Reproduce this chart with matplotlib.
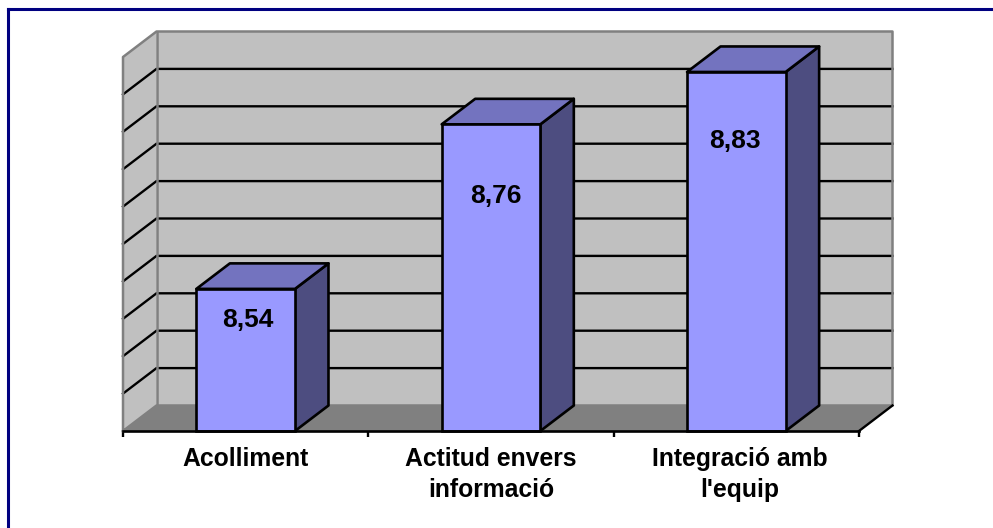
import matplotlib
matplotlib.use('Agg')
import matplotlib.pyplot as plt
from matplotlib.lines import Line2D
from matplotlib.patches import Polygon
from matplotlib.transforms import ScaledTranslation

plt.rcParams['font.family'] = ['Liberation Sans', 'DejaVu Sans']

# data
categories = ['Acolliment', 'Actitud envers\ninformació', 'Integració amb\nl\'equip']
values = [8.54, 8.76, 8.83]
value_labels = ['8,54', '8,76', '8,83']
grid_values = [8.40, 8.45, 8.50, 8.55, 8.60, 8.65, 8.70, 8.75, 8.80]
y_min = 8.35
y_max = 8.85

W, H = 993, 528
fig = plt.figure(figsize=(W / 100, H / 100), dpi=100)
ax = fig.add_axes([123 / W, 1 - 431 / H, 736 / W, 374 / H])
ax.set_xlim(0, len(categories))
ax.set_ylim(y_min, y_max)
ax.patch.set_visible(False)
for side in ['top', 'left', 'right']:
    ax.spines[side].set_visible(False)
ax.spines['bottom'].set_linewidth(1.9)
ax.spines['bottom'].set_zorder(8)

# depth of the fake 3d box, in data units
dx = 33.5 / 736 * len(categories)
dy = 25.5 / 374 * (y_max - y_min)
x_end = len(categories)
gray = '#808080'

# walls and floor
ax.add_patch(Polygon([(dx, y_min + dy), (x_end + dx, y_min + dy), (x_end + dx, y_max + dy), (dx, y_max + dy)],
                     fc='#C0C0C0', ec='none', zorder=1, clip_on=False))
ax.add_patch(Polygon([(0, y_min), (dx, y_min + dy), (dx, y_max + dy), (0, y_max)],
                     fc='#C0C0C0', ec='none', zorder=1, clip_on=False))
ax.add_patch(Polygon([(0, y_min), (x_end, y_min), (x_end + dx, y_min + dy), (dx, y_min + dy)],
                     fc=gray, ec='none', zorder=1, clip_on=False))

# gridlines
for g in grid_values:
    ax.plot([0, dx, x_end + dx], [g, g + dy, g + dy], color='black', lw=1.7, zorder=2,
            clip_on=False, solid_joinstyle='miter')

# gray outline of the walls
ax.plot([0, 0, dx, x_end + dx, x_end + dx, dx, 0],
        [y_min, y_max, y_max + dy, y_max + dy, y_min + dy, y_min + dy, y_min],
        color=gray, lw=1.8, zorder=3, clip_on=False)
ax.plot([dx, dx], [y_min + dy, y_max + dy], color=gray, lw=1.8, zorder=3, clip_on=False)
ax.plot([x_end, x_end + dx], [y_min, y_min + dy], color='black', lw=1.7, zorder=3, clip_on=False)

# bars
bar_w = 0.402
label_offsets = [-31, -72, -69]
label_shift = [2.5, 5, -1]
for i, v in enumerate(values):
    x0 = i + 0.5 - bar_w / 2
    x1 = i + 0.5 + bar_w / 2
    ax.add_patch(Polygon([(x1, y_min), (x1 + dx, y_min + dy), (x1 + dx, v + dy), (x1, v)],
                         fc='#4D4D80', ec='black', lw=1.9, zorder=4, clip_on=False, joinstyle='round'))
    ax.add_patch(Polygon([(x0, v), (x1, v), (x1 + dx, v + dy), (x0 + dx, v + dy)],
                         fc='#7373BF', ec='black', lw=1.9, zorder=4, clip_on=False, joinstyle='round'))
    ax.add_patch(Polygon([(x0, y_min), (x1, y_min), (x1, v), (x0, v)],
                         fc='#9999FF', ec='black', lw=1.9, zorder=5, clip_on=False, joinstyle='miter'))
    ax.annotate(value_labels[i], (i + 0.5, v), xytext=(label_shift[i] * 0.72, label_offsets[i] * 0.72),
                textcoords='offset points', ha='center', va='center',
                fontsize=19, fontweight='bold', color='black', zorder=6)

# x axis, ticks sit between the categories
ax.set_yticks([])
ax.set_xticks([i + 0.5 for i in range(len(categories))])
ax.set_xticklabels(categories, fontsize=17.8, fontweight='bold', linespacing=1.37)
ax.tick_params(axis='x', which='major', length=0, pad=11.5)
ax.set_xticks(range(len(categories) + 1), minor=True)
ax.tick_params(axis='x', which='minor', length=4, width=1.7, color='black')

# last label sits a little right of its bar in the original
lab = ax.get_xticklabels()[2]
lab.set_transform(lab.get_transform() + ScaledTranslation(3 / 100, 0, fig.dpi_scale_trans))

# navy frame, only top and left are inside the picture
fig.add_artist(Line2D([8 / W, 1], [1 - 9 / H, 1 - 9 / H], color='#000080', lw=2.2, transform=fig.transFigure))
fig.add_artist(Line2D([8 / W, 8 / W], [0, 1 - 9 / H], color='#000080', lw=2.2, transform=fig.transFigure))

fig.savefig('out.png', dpi=100, facecolor='white')
